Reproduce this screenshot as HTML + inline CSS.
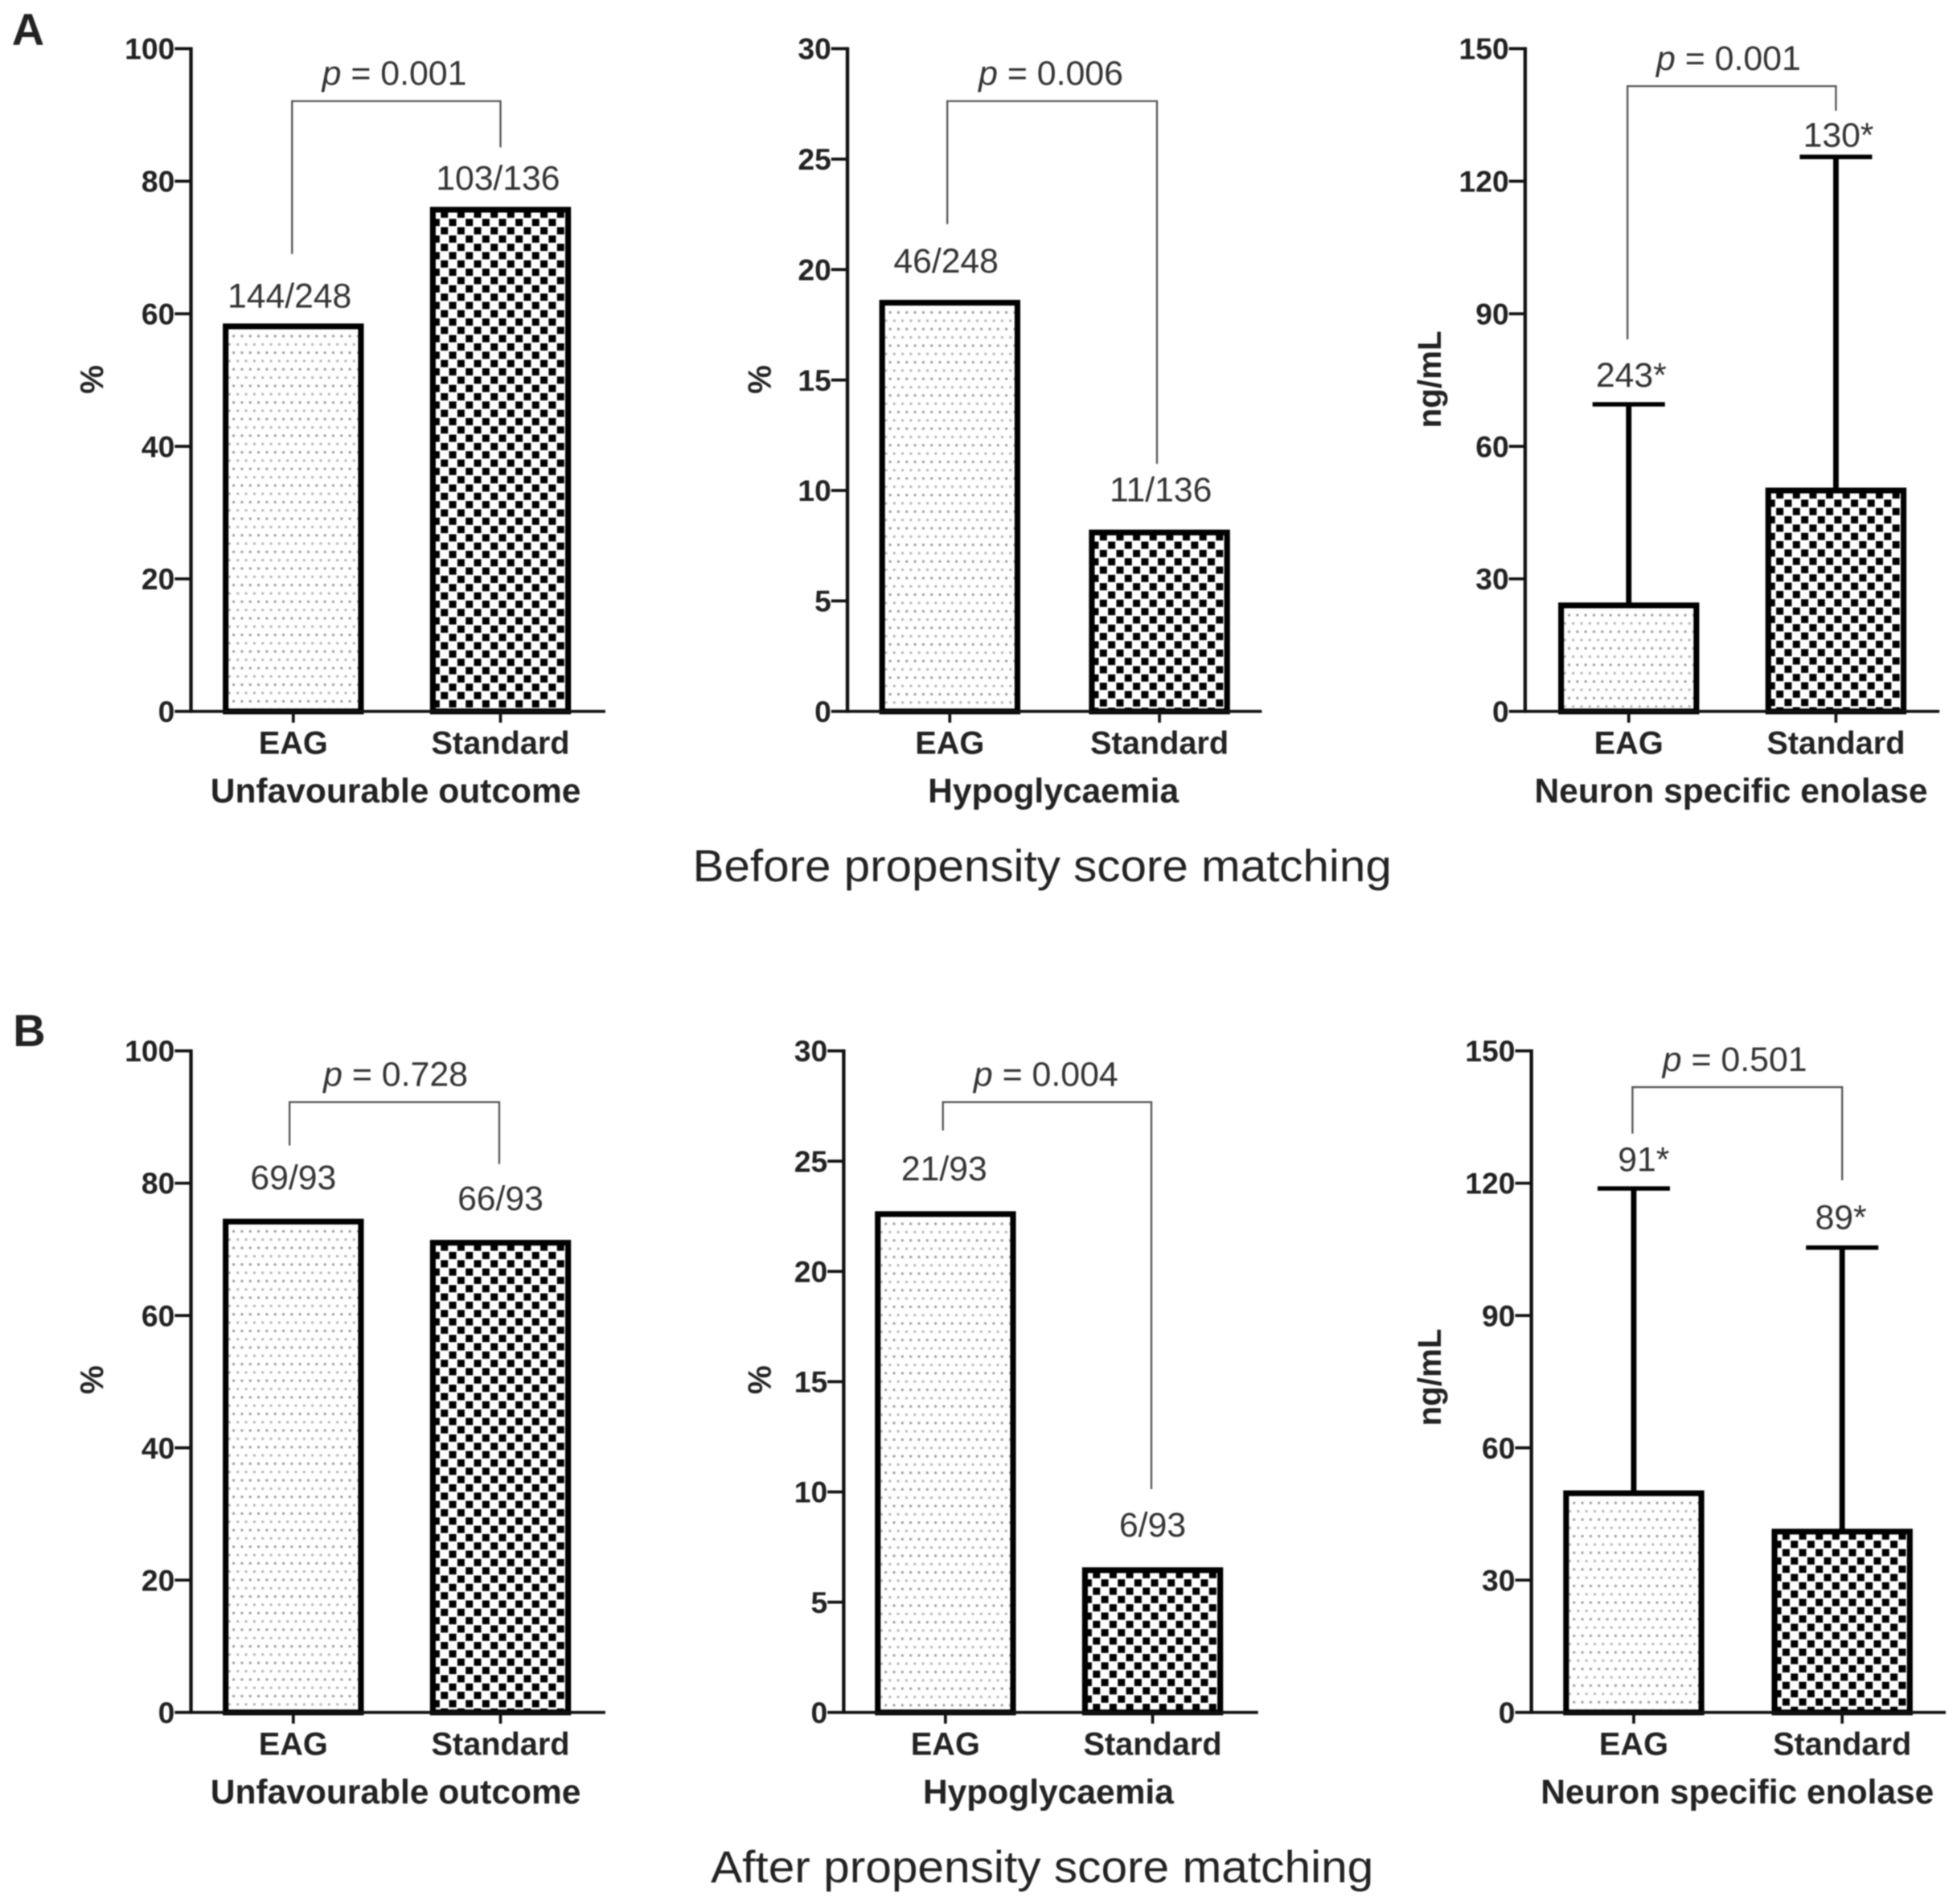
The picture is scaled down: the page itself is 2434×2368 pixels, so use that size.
<!DOCTYPE html>
<html lang="en">
<head>
<meta charset="utf-8">
<title>Outcomes before and after propensity score matching</title>
<style>
html,body{margin:0;padding:0;background:#fff;}
body{width:2434px;height:2368px;overflow:hidden;}
svg{display:block;filter:blur(0.9px);}
text{font-family:"Liberation Sans",sans-serif;}
.bold{font-weight:bold;fill:#222;}
.note{fill:#333;}
</style>
</head>
<body>
<svg id="figure" xmlns="http://www.w3.org/2000/svg" width="2434" height="2368" viewBox="0 0 1568 1525.5">
  <defs id="defs"></defs>
  <text class="bold" x="22.5" y="36" font-size="36" text-anchor="middle">A</text>
  <text class="bold" x="23.5" y="838" font-size="36" text-anchor="middle">B</text>
  <text x="835" y="706" font-size="36" text-anchor="middle" fill="#222" textLength="560" lengthAdjust="spacingAndGlyphs">Before propensity score matching</text>
  <text x="835" y="1508" font-size="36" text-anchor="middle" fill="#222" textLength="531" lengthAdjust="spacingAndGlyphs">After propensity score matching</text>
</svg>
<script>
const categories = ['EAG', 'Standard'];
const ticksPercent = [0, 20, 40, 60, 80, 100];
const ticksHypo = [0, 5, 10, 15, 20, 25, 30];
const ticksEnolase = [0, 30, 60, 90, 120, 150];

const outcomeBefore = [58.1, 75.7];
const hypoBefore = [18.5, 8.1];
const enolaseBefore = [24, 50];
const enolaseBeforeUpper = [69.5, 125.5];
const outcomeAfter = [74.2, 71];
const hypoAfter = [22.6, 6.45];
const enolaseAfter = [49.7, 41];
const enolaseAfterUpper = [118.8, 105.4];

const labelsOutcomeBefore = ['144/248', '103/136'];
const labelsHypoBefore = ['46/248', '11/136'];
const labelsEnolaseBefore = ['243*', '130*'];
const labelsOutcomeAfter = ['69/93', '66/93'];
const labelsHypoAfter = ['21/93', '6/93'];
const labelsEnolaseAfter = ['91*', '89*'];

const panels = [
  {id:'outcome-before', title:'Unfavourable outcome', unit:'%', ticks:ticksPercent, values:outcomeBefore, labels:labelsOutcomeBefore, p:'0.001',
   ax:153, top:39, bottom:570, first:82, gap:166, unitX:74, labelGap:[15,16], legGap:[58,50], brTop:42, brShift:[-1,0], pX:316, titleX:317, labelShift:[-3,-2], unitShift:0},
  {id:'hypo-before', title:'Hypoglycaemia', unit:'%', ticks:ticksHypo, values:hypoBefore, labels:labelsHypoBefore, p:'0.006',
   ax:679, top:39, bottom:570, first:82, gap:168, unitX:609, labelGap:[24,25], legGap:[63,55], brTop:42, brShift:[-2,-2], pX:842, titleX:844, labelShift:[-3,1], unitShift:0},
  {id:'enolase-before', title:'Neuron specific enolase', unit:'ng/mL', ticks:ticksEnolase, values:enolaseBefore, upper:enolaseBeforeUpper, labels:labelsEnolaseBefore, p:'0.001',
   ax:1222, top:39, bottom:570, first:83, gap:166, unitX:1146, labelGap:[14,8], legGap:[52,37], brTop:30, brShift:[-1,0], pX:1385, titleX:1387, labelShift:[2,2], unitShift:0},
  {id:'outcome-after', title:'Unfavourable outcome', unit:'%', ticks:ticksPercent, values:outcomeAfter, labels:labelsOutcomeAfter, p:'0.728',
   ax:153, top:842, bottom:1372, first:82, gap:166, unitX:74, labelGap:[26,26], legGap:[61,63], brTop:41, brShift:[-3,-1], pX:317, titleX:317, labelShift:[0,0], unitShift:-1},
  {id:'hypo-after', title:'Hypoglycaemia', unit:'%', ticks:ticksHypo, values:hypoAfter, labels:labelsHypoAfter, p:'0.004',
   ax:676, top:842, bottom:1372, first:81.5, gap:166, unitX:609, labelGap:[27,27], legGap:[67,65], brTop:41, brShift:[-2,-1], pX:838, titleX:840, labelShift:[-1,0], unitShift:-1},
  {id:'enolase-after', title:'Neuron specific enolase', unit:'ng/mL', ticks:ticksEnolase, values:enolaseAfter, upper:enolaseAfterUpper, labels:labelsEnolaseAfter, p:'0.501',
   ax:1227, top:842, bottom:1372, first:82, gap:167, unitX:1146, labelGap:[14,15], legGap:[44,54], brTop:29, brShift:[-1,0], pX:1390, titleX:1392, labelShift:[8,-1], unitShift:-3}
];

const SVGNS = 'http://www.w3.org/2000/svg';
const root = document.getElementById('figure');
const defs = document.getElementById('defs');

function make(parent, tag, attrs, text) {
  const node = document.createElementNS(SVGNS, tag);
  for (const key in attrs) node.setAttribute(key, attrs[key]);
  if (text !== undefined) node.textContent = text;
  parent.appendChild(node);
  return node;
}

function addDotPattern(id, left, top) {
  const pat = make(defs, 'pattern', {id:id, width:6.65, height:13.3, patternUnits:'userSpaceOnUse', patternTransform:'translate(' + (left + 7.35) + ' ' + (top + 6.45) + ')'});
  make(pat, 'rect', {x:0, y:0, width:6.65, height:13.3, fill:'#fff'});
  make(pat, 'rect', {x:0.4, y:0.4, width:1.9, height:1.9, fill:'#9c9c9c'});
  make(pat, 'rect', {x:3.7, y:7.05, width:1.9, height:1.9, fill:'#b4b4b4'});
}

function addCheckPattern(id, left, top) {
  const pat = make(defs, 'pattern', {id:id, width:13.3, height:13.3, patternUnits:'userSpaceOnUse', patternTransform:'translate(' + (left + 15.3) + ' ' + (top + 7.3) + ')'});
  make(pat, 'rect', {x:0, y:0, width:13.3, height:13.3, fill:'#fff'});
  make(pat, 'rect', {x:0, y:0, width:5.8, height:5.8, fill:'#000'});
  make(pat, 'rect', {x:6.65, y:6.65, width:5.8, height:5.8, fill:'#000'});
}

const BAR_WIDTH = 113;
const CAP_WIDTH = 58;
const BAR_STROKE = 4.6;

panels.forEach(function (panel) {
  const yMax = panel.ticks[panel.ticks.length - 1];
  const yScale = function (v) { return panel.bottom - (v / yMax) * (panel.bottom - panel.top); };
  const xScale = function (i) { return panel.ax + panel.first + i * panel.gap; };

  const group = make(root, 'g', {});
  
  

  // bars and error bars
  panel.values.forEach(function (value, i) {
    const cx = xScale(i);
    const barTop = yScale(value);
    const left = cx - BAR_WIDTH / 2;
    const patternId = 'fill-' + panel.id + '-' + i;
    if (i === 0) addDotPattern(patternId, left, barTop);
    else addCheckPattern(patternId, left, barTop);

    if (panel.upper) {
      const upperY = yScale(panel.upper[i]);
      const stem = make(group, 'line', {x1:cx, x2:cx, y1:barTop, y2:upperY, stroke:'#000', 'stroke-width':4.4});
      
      
      const cap = make(group, 'line', {x1:cx - CAP_WIDTH / 2, x2:cx + CAP_WIDTH / 2, y1:upperY, y2:upperY, stroke:'#000', 'stroke-width':3.6});
      
      
    }

    const bar = make(group, 'rect', {
      x:left + BAR_STROKE / 2, y:barTop,
      width:BAR_WIDTH - BAR_STROKE, height:panel.bottom - barTop,
      fill:'url(#' + patternId + ')', stroke:'#000', 'stroke-width':BAR_STROKE
    });
    
    

    const anchorY = panel.upper ? yScale(panel.upper[i]) : barTop;
    const valueLabel = make(group, 'text', {x:cx + panel.labelShift[i], y:anchorY - panel.labelGap[i], 'font-size':27.5, 'text-anchor':'middle', class:'note'}, panel.labels[i]);
    
    
  });

  // axes
  const yAxis = make(group, 'line', {x1:panel.ax, x2:panel.ax, y1:panel.top - 1.2, y2:panel.bottom + 1.2, stroke:'#111', 'stroke-width':2.8});
  
  
  const xAxis = make(group, 'line', {x1:panel.ax, x2:panel.ax + 332, y1:panel.bottom, y2:panel.bottom, stroke:'#111', 'stroke-width':2.4});
  
  

  panel.ticks.forEach(function (tick) {
    const y = yScale(tick);
    const mark = make(group, 'line', {x1:panel.ax - 13, x2:panel.ax, y1:y, y2:y, stroke:'#111', 'stroke-width':2.4});
    
    
    const label = make(group, 'text', {x:panel.ax - 13, y:y + 8.5, 'font-size':24, 'text-anchor':'end', class:'bold'}, String(tick));
    
    
  });

  categories.forEach(function (category, i) {
    const cx = xScale(i);
    const mark = make(group, 'line', {x1:cx, x2:cx, y1:panel.bottom, y2:panel.bottom + 9, stroke:'#111', 'stroke-width':2.4});
    
    
    const label = make(group, 'text', {x:cx, y:panel.bottom + 34, 'font-size':25.6, 'text-anchor':'middle', class:'bold'}, category);
    
    
  });

  const xTitle = make(group, 'text', {x:panel.titleX, y:panel.bottom + 73, 'font-size':27.4, 'text-anchor':'middle', class:'bold'}, panel.title);
  
  

  const unitY = (panel.top + panel.bottom) / 2 - 0.5 + panel.unitShift;
  const yTitle = make(group, 'text', {x:panel.unitX, y:unitY, 'font-size':26, 'text-anchor':'middle', class:'bold', transform:'rotate(-90 ' + panel.unitX + ' ' + unitY + ') translate(0 8.5)'}, panel.unit);
  
  

  // significance bracket
  const anchorTops = panel.values.map(function (value, i) {
    return panel.upper ? yScale(panel.upper[i]) : yScale(value);
  });
  const brY = panel.top + panel.brTop;
  const xL = xScale(0) + panel.brShift[0];
  const xR = xScale(1) + panel.brShift[1];
  const bracket = make(group, 'path', {
    d:'M' + xL + ' ' + (anchorTops[0] - panel.legGap[0]) + 'V' + brY + 'H' + xR + 'V' + (anchorTops[1] - panel.legGap[1]),
    fill:'none', stroke:'#555', 'stroke-width':1.5
  });
  
  

  const pText = make(group, 'text', {x:panel.pX, y:brY - 13, 'font-size':27.6, 'text-anchor':'middle', class:'note'});
  
  
  make(pText, 'tspan', {'font-style':'italic'}, 'p');
  make(pText, 'tspan', {}, ' = ' + panel.p);
});
</script>
</body>
</html>
